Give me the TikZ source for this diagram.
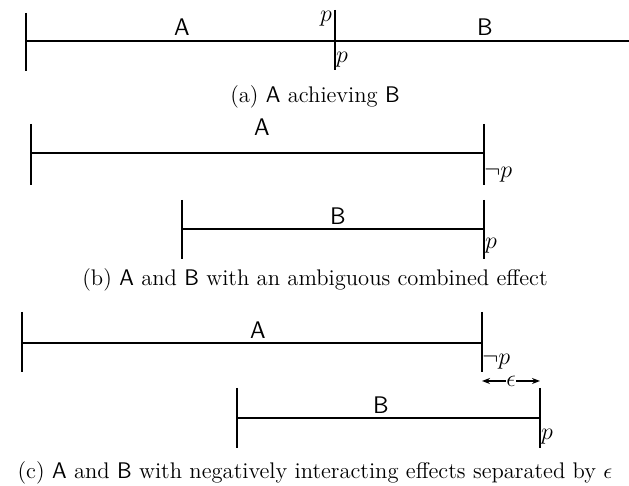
\documentclass[tikz,border=0pt]{standalone}
\usetikzlibrary{positioning,arrows.meta}
\begin{document}
\begin{tikzpicture}[x=0.5pt,y=-0.5pt,
	bar/.style={line width=0.9pt},
	act/.style={font=\sffamily\large, inner sep=1pt},
	lit/.style={inner sep=0pt, font=\large},
	caption/.style={font=\fontsize{11.3}{13.6}\selectfont},
	arr/.style={-{Stealth[length=4pt]}, line width=0.7pt}
]
	\useasboundingbox (0,0) rectangle (629,486);

	% (a) A achieving B
	\coordinate (a0) at (26,41);
	\coordinate (a1) at (335,41);
	\coordinate (a2) at (629,41);
	\draw[bar] (a0) -- (a2);
	\draw[bar] (a0) ++(0,-28) -- ++(0,58);
	\draw[bar] (a1) ++(0,-31) -- ++(0,60);
	\node[act] (aA) at (182,27) {A};
	\node[act] (aB) at (485,27) {B};
	\node[lit] (aP) at (326,19) {$p$};
	\node[lit] (aQ) at (342,60) {$p$};
	\node[caption] (capA) at (315,97) {(a) \textsf{A} achieving \textsf{B}};

	% (b) ambiguous combined effect
	\coordinate (b0) at (31,153);
	\coordinate (b1) at (484,153);
	\coordinate (b2) at (182,229);
	\coordinate (b3) at (484,229);
	\draw[bar] (b0) -- (b1);
	\draw[bar] (b2) -- (b3);
	\foreach \c in {b0,b1} \draw[bar] (\c) ++(0,-29) -- ++(0,61);
	\foreach \c in {b2,b3} \draw[bar] (\c) ++(0,-29) -- ++(0,59);
	\node[act] (bA) at (262,127) {A};
	\node[act] (bB) at (338,216) {B};
	\node[lit, anchor=west] (bN) at (484,175) {$\neg p$};
	\node[lit] (bP) at (491,246) {$p$};
	\node[caption] (capB) at (315,280) {(b) \textsf{A} and \textsf{B} with an ambiguous combined effect};

	% (c) negatively interacting effects
	\coordinate (c0) at (22,343);
	\coordinate (c1) at (482,343);
	\coordinate (c2) at (237,418);
	\coordinate (c3) at (540,418);
	\draw[bar] (c0) -- (c1);
	\draw[bar] (c2) -- (c3);
	\foreach \c in {c0,c1} \draw[bar] (\c) ++(0,-31) -- ++(0,60);
	\foreach \c in {c2,c3} \draw[bar] (\c) ++(0,-30) -- ++(0,60);
	\node[act] (cA) at (258,330) {A};
	\node[act] (cB) at (381,405) {B};
	\node[lit, anchor=west] (cN) at (482,362) {$\neg p$};
	\node[lit] (cP) at (547,437) {$p$};
	\node[lit] (eps) at (511,381) {$\epsilon$};
	\coordinate (e0) at (482,381);
	\coordinate (e1) at (540,381);
	\draw[arr] (eps) -- (e0);
	\draw[arr] (eps) -- (e1);
	\node[caption] (capC) at (315,473) {(c) \textsf{A} and \textsf{B} with negatively interacting effects separated by $\epsilon$};
\end{tikzpicture}
\end{document}
